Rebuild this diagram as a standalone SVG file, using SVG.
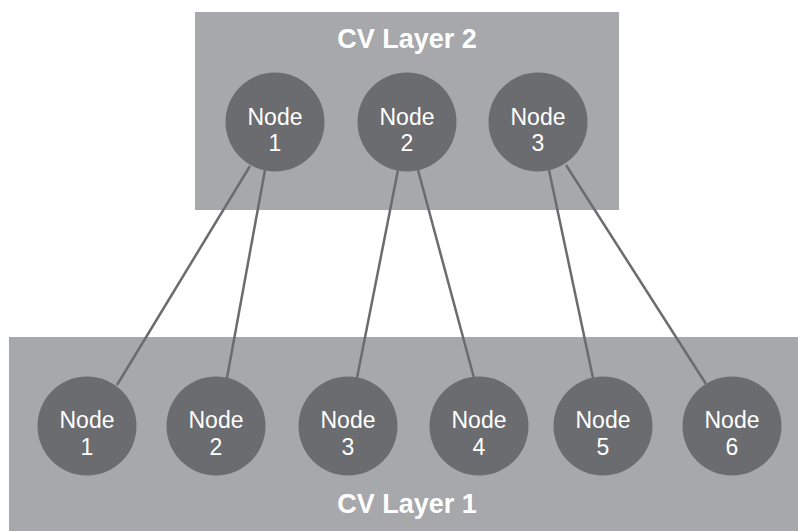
<svg xmlns="http://www.w3.org/2000/svg" width="798" height="531" viewBox="0 0 798 531">
<style>
.layer{fill:#a7a8ac}
.node circle{fill:#6b6c70}
.lbl{font-family:"Liberation Sans",Arial,sans-serif;font-size:23px;fill:#fff;text-anchor:middle}
.title{font-family:"Liberation Sans",Arial,sans-serif;font-size:27px;font-weight:bold;fill:#fff;text-anchor:middle}
.conn line{stroke:#6b6c70;stroke-width:2.5}
</style>
<rect fill="#fff" width="798" height="531"/>
<g id="layer2"><rect class="layer" x="195" y="12" width="424" height="198"/><text class="title" x="407" y="48">CV Layer 2</text></g>
<g id="layer1"><rect class="layer" x="9" y="337" width="789" height="194"/><text class="title" x="407" y="513">CV Layer 1</text></g>
<g id="connectors" class="conn">
<line x1="250" y1="166" x2="117" y2="385"/>
<line x1="265" y1="170" x2="227" y2="378"/>
<line x1="398" y1="170" x2="357" y2="378"/>
<line x1="418" y1="170" x2="474" y2="378"/>
<line x1="549" y1="170" x2="593" y2="378"/>
<line x1="566" y1="165" x2="706" y2="384"/>
</g>
<g id="t1" class="node"><circle cx="275" cy="122" r="49.5"/><text class="lbl" x="275" y="125">Node</text><text class="lbl" x="275" y="151">1</text></g>
<g id="t2" class="node"><circle cx="407" cy="122" r="49.5"/><text class="lbl" x="407" y="125">Node</text><text class="lbl" x="407" y="151">2</text></g>
<g id="t3" class="node"><circle cx="538" cy="122" r="49.5"/><text class="lbl" x="538" y="125">Node</text><text class="lbl" x="538" y="151">3</text></g>
<g id="b1" class="node"><circle cx="87" cy="426" r="49.5"/><text class="lbl" x="87" y="428">Node</text><text class="lbl" x="87" y="455">1</text></g>
<g id="b2" class="node"><circle cx="216" cy="426" r="49.5"/><text class="lbl" x="216" y="428">Node</text><text class="lbl" x="216" y="455">2</text></g>
<g id="b3" class="node"><circle cx="348" cy="426" r="49.5"/><text class="lbl" x="348" y="428">Node</text><text class="lbl" x="348" y="455">3</text></g>
<g id="b4" class="node"><circle cx="479" cy="426" r="49.5"/><text class="lbl" x="479" y="428">Node</text><text class="lbl" x="479" y="455">4</text></g>
<g id="b5" class="node"><circle cx="603" cy="426" r="49.5"/><text class="lbl" x="603" y="428">Node</text><text class="lbl" x="603" y="455">5</text></g>
<g id="b6" class="node"><circle cx="732" cy="426" r="49.5"/><text class="lbl" x="732" y="428">Node</text><text class="lbl" x="732" y="455">6</text></g>
</svg>
